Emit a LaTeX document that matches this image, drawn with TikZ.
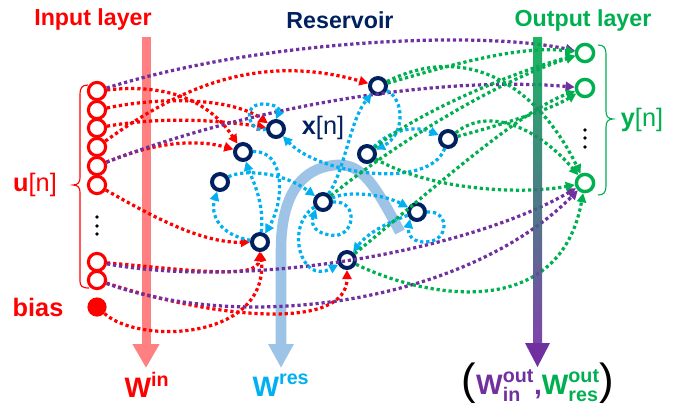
\documentclass[tikz,border=0pt]{standalone}
\usepackage{amsmath}
\usepackage{fontspec}
\setmainfont{Liberation Sans}
\usetikzlibrary{arrows.meta}
\definecolor{inred}{RGB}{255,0,0}
\definecolor{barred}{RGB}{255,128,128}
\definecolor{inpurple}{RGB}{112,48,160}
\definecolor{outgreen}{RGB}{0,176,80}
\definecolor{resblue}{RGB}{0,176,240}
\definecolor{resnavy}{RGB}{0,32,96}
\definecolor{arcblue}{RGB}{157,195,230}
\begin{document}
\begin{tikzpicture}[x=0.025cm,y=-0.025cm,
		link/.style={line width=2.3pt,dash pattern=on 2.3pt off 2pt,-{Triangle[length=6.5pt,width=6.5pt]}},
		redlink/.style={link,inred},
		purplelink/.style={link,inpurple},
		greenlink/.style={link,outgreen},
		bluelink/.style={link,resblue},
		innode/.style={circle,draw=inred,line width=2.2pt,minimum size=0.43cm,inner sep=0pt},
		resnode/.style={circle,draw=resnavy,line width=2.8pt,minimum size=0.4cm,inner sep=0pt},
		outnode/.style={circle,draw=outgreen,line width=2.4pt,minimum size=0.43cm,inner sep=0pt},
		title/.style={font=\bfseries\fontsize{16.5}{18}\selectfont},
		biglabel/.style={font=\fontsize{18}{20}\selectfont},
		wlabel/.style={font=\fontsize{20}{21}\selectfont}]
	\useasboundingbox (0,0) rectangle (686,404);
	% weight bars
	\draw[barred,line width=6.4pt,-{Triangle[length=17pt,width=18pt]}] (146,37) -- (146,368);
	\draw[arcblue,line width=7.5pt,-{Triangle[length=17pt,width=17pt]}] (400,232) .. controls (375,185) and (362,163) .. (336,165) .. controls (298,168) and (281,200) .. (281,250) -- (281,368);
	% titles
	\node[title,inred] (inlab) at (93,19) {Input layer};
	\node[title,resnavy] (reslab) at (340,20) {Reservoir};
	\node[title,outgreen] (outlab) at (583,20) {Output layer};
	\node[biglabel,inred] (ulab) at (35,185) {\textbf{u}[n]};
	\node[inred,font=\bfseries\fontsize{18}{20}\selectfont] (biaslab) at (38,307) {bias};
	\node[biglabel,resnavy] (xlab) at (323,128) {\textbf{x}[n]};
	\node[biglabel,outgreen] (ylab) at (642,120) {\textbf{y}[n]};
	\node[wlabel,inred] (win) at (147,385) {$\textbf{W}^{\textbf{in}}$};
	\node[wlabel,resblue] (wres) at (281,385) {$\textbf{W}^{\textbf{res}}$};
	\node[wlabel] (wout) at (538,383) {{\fontsize{31}{31}\selectfont(}$\textcolor{inpurple}{\textbf{W}^{\textbf{out}}_{\textbf{in}}}$\textcolor{inpurple}{\textbf{,}}$\textcolor{outgreen}{\textbf{W}^{\textbf{out}}_{\textbf{res}}}${\fontsize{31}{31}\selectfont)}};
	% input layer
	\foreach \n/\y in {1/91,2/110,3/128,4/147,5/166,6/185,7/262,8/280}
		\node[innode] (i\n) at (97,\y) {};
	\node[circle,fill=inred,minimum size=0.48cm,inner sep=0pt] (bias) at (97,307) {};
	\foreach \y in {217,226,234}
		\fill (97,\y) circle (1.9);
	\draw[inred,line width=0.8pt] (88,85) .. controls (82,85) and (80,88) .. (80,94) -- (80,178) .. controls (80,182) and (78,185) .. (73,185) .. controls (78,185) and (80,188) .. (80,192) -- (80,281) .. controls (80,286) and (82,288) .. (89,288);
	% reservoir
	\node[resnode] (r1) at (378,86) {};
	\node[resnode] (r2) at (276,129) {};
	\node[resnode] (r3) at (243,152) {};
	\node[resnode] (r4) at (220,182) {};
	\node[resnode] (r5) at (367,154) {};
	\node[resnode] (r6) at (448,139) {};
	\node[resnode] (r7) at (323,202) {};
	\node[resnode] (r8) at (260,242) {};
	\node[resnode] (r9) at (417,212) {};
	\node[resnode] (r10) at (347,260) {};
	% output layer
	\node[outnode] (o1) at (585,53) {};
	\node[outnode] (o2) at (585,88) {};
	\node[outnode] (o3) at (585,183) {};
	\foreach \y in {130,138,147}
		\fill (585,\y) circle (1.9);
	\draw[outgreen,line width=0.8pt] (598,45) .. controls (604,45) and (606,48) .. (606,54) -- (606,111) .. controls (606,116) and (608,119) .. (613,119) .. controls (608,119) and (606,122) .. (606,127) -- (606,186) .. controls (606,192) and (604,195) .. (598,195);
	% input weights
	\draw[redlink] (i1) .. controls (180,82) and (215,110) .. (r3);
	\draw[redlink] (i2) .. controls (170,95) and (235,100) .. (r2);
	\draw[redlink] (i3) .. controls (170,115) and (230,122) .. (r2);
	\draw[redlink] (i4) .. controls (170,95) and (250,50) .. (r1);
	\draw[redlink] (i5) .. controls (160,140) and (200,140) .. (r3);
	\draw[redlink] (i6) .. controls (150,215) and (200,243) .. (r8);
	\draw[redlink] (i7) .. controls (190,270) and (258,280) .. (r8);
	\draw[redlink] (bias) .. controls (140,345) and (268,340) .. (r8);
	\draw[redlink] (i8) .. controls (220,320) and (347,330) .. (r10);
	% direct input to output
	\draw[purplelink] (i1) .. controls (260,40) and (480,30) .. (o1);
	\draw[purplelink] (i5) .. controls (240,110) and (430,75) .. (o2);
	\draw[purplelink] (i7) .. controls (250,290) and (470,250) .. (o3);
	\draw[purplelink] (i8) .. controls (250,335) and (470,300) .. (o3);
	% recurrent weights
	\draw[bluelink] (r2.west) .. controls (250,135) and (240,105) .. (262,104) .. controls (278,104) and (280,110) .. (r2.north);
	\draw[bluelink] (r3) .. controls (285,150) and (285,200) .. (r8);
	\draw[bluelink] (r8) .. controls (265,200) and (250,175) .. (r3);
	\draw[bluelink] (r8) .. controls (220,235) and (210,215) .. (r4);
	\draw[bluelink] (r4) .. controls (240,170) and (280,170) .. (r7);
	\draw[bluelink] (r7.east) .. controls (360,200) and (355,240) .. (330,235) .. controls (310,232) and (312,220) .. (r7.south west);
	\draw[bluelink] (r9.east) .. controls (450,210) and (450,242) .. (425,242) .. controls (408,242) and (408,230) .. (r9.south west);
	\draw[bluelink] (r7) .. controls (350,190) and (385,195) .. (r9);
	\draw[bluelink] (r9) .. controls (395,220) and (370,230) .. (r10);
	\draw[bluelink] (r1) .. controls (405,100) and (405,135) .. (r5);
	\draw[bluelink] (r5) .. controls (390,130) and (415,125) .. (r6);
	\draw[bluelink] (r7) .. controls (345,170) and (350,120) .. (r1);
	\draw[bluelink] (r6) .. controls (430,190) and (320,175) .. (r2);
	\draw[bluelink] (r7) .. controls (285,225) and (300,285) .. (r10);
	% output weights
	\draw[greenlink] (r1) .. controls (450,65) and (520,45) .. (o1);
	\draw[greenlink] (r1) .. controls (470,40) and (540,90) .. (o3);
	\draw[greenlink] (r5) .. controls (420,110) and (520,70) .. (o1);
	\draw[greenlink] (r5) .. controls (430,190) and (520,195) .. (o3);
	\draw[greenlink] (r6) .. controls (500,125) and (550,110) .. (o2);
	\draw[greenlink] (r6) .. controls (490,105) and (540,130) .. (o3);
	\draw[greenlink] (r7) .. controls (400,140) and (500,80) .. (o1);
	\draw[greenlink] (r10) .. controls (420,200) and (520,110) .. (o2);
	\draw[greenlink] (r10) .. controls (430,300) and (560,320) .. (o3);
	% readout bar
	\shade[top color=outgreen,bottom color=inpurple,opacity=0.9] (533,37) rectangle (542,345);
	\fill[inpurple] (525,343) -- (550,343) -- (537.5,367) -- cycle;
\end{tikzpicture}
\end{document}
